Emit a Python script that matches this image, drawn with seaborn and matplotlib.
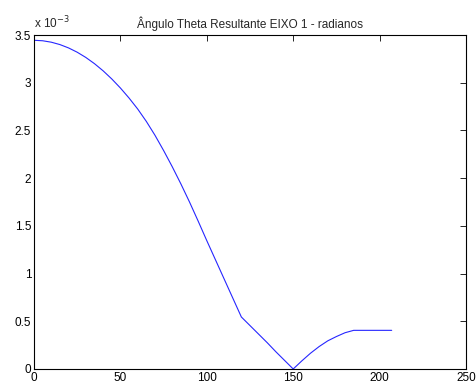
import numpy as np
import pandas as pd
import matplotlib
matplotlib.use("Agg")
import matplotlib.pyplot as plt
import seaborn as sns
from matplotlib.ticker import FuncFormatter

# Curve (theta in units of 1e-3 rad)
x_vals = [0, 5, 10, 15, 20, 25, 30, 35, 40, 45, 50, 55, 60, 65, 70, 75, 80, 85, 90,
          95, 100, 105, 110, 115, 120, 125, 130, 135, 140, 145, 150,
          155, 160, 165, 170, 175, 180, 185, 195, 207]
theta_e3 = [3.445, 3.44, 3.425, 3.40, 3.365, 3.32, 3.265, 3.20, 3.125, 3.04, 2.945, 2.84, 2.725,
            2.595, 2.45, 2.29, 2.12, 1.94, 1.75, 1.55, 1.345, 1.145, 0.945, 0.745, 0.545,
            0.455, 0.365, 0.275, 0.18, 0.09, 0.0,
            0.085, 0.165, 0.235, 0.295, 0.34, 0.38, 0.405, 0.405, 0.405]

title = "Ângulo Theta Resultante EIXO 1 - radianos"

sns.set_style("white")
plt.rcParams['font.family'] = ['Liberation Sans', 'DejaVu Sans']

df = pd.DataFrame({"x": x_vals, "theta": np.array(theta_e3) * 1e-3})

fig = plt.figure(figsize=(4.76, 3.85), dpi=100)
ax = fig.add_axes([0.0714, 0.0416, 0.9076, 0.8674])

sns.lineplot(data=df, x="x", y="theta", ax=ax, color="#0000ff", linewidth=0.8, alpha=0.85)

ax.set_xlim(0, 250)
ax.set_ylim(0, 3.5e-3)
ax.set_xticks(np.arange(0, 251, 50))
ax.set_yticks(np.arange(0, 3.51e-3, 0.5e-3))
ax.yaxis.set_major_formatter(FuncFormatter(lambda v, p: f"{v * 1e3:g}"))
ax.tick_params(direction="in", length=4, width=0.6, labelsize=8.5, top=True, right=True,
               colors="black", pad=2)
ax.set_xlabel("")
ax.set_ylabel("")
for s in ax.spines.values():
    s.set_color("black")
    s.set_linewidth(0.8)

ax.set_title(title, fontsize=8.5, pad=5)
ax.text(0.0, 1.012, r"x 10$^{-3}$", transform=ax.transAxes, fontsize=8.5,
        ha="left", va="bottom")

fig.savefig("out.png", dpi=100)
